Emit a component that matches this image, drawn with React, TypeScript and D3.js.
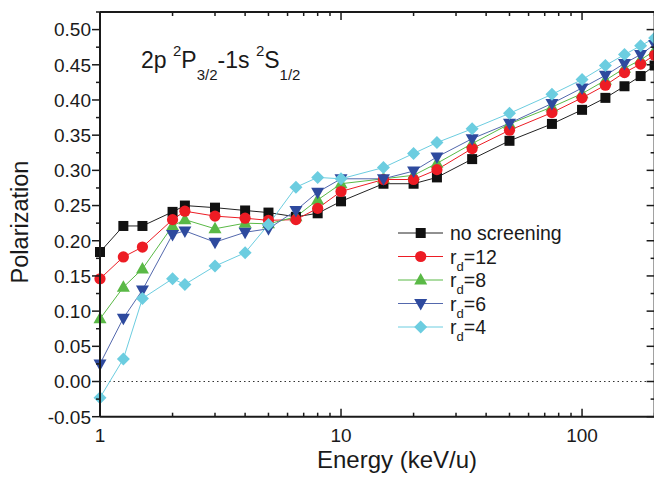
import React from "react";
import * as d3 from "d3";

const energies = [1, 1.25, 1.5, 2, 2.25, 3, 4, 5, 6.5, 8, 10, 15, 20, 25, 35, 50, 75, 100, 125, 150, 175, 200];
const noScreening = [0.184, 0.221, 0.221, 0.241, 0.25, 0.247, 0.243, 0.24, 0.234, 0.239, 0.256, 0.281, 0.281, 0.29, 0.316, 0.342, 0.366, 0.386, 0.403, 0.4195, 0.434, 0.449];
const rd12 = [0.146, 0.177, 0.191, 0.23, 0.242, 0.235, 0.232, 0.229, 0.23, 0.246, 0.27, 0.287, 0.287, 0.301, 0.331, 0.357, 0.382, 0.403, 0.421, 0.439, 0.451, 0.4635];
const rd8 = [0.089, 0.134, 0.16, 0.221, 0.23, 0.217, 0.225, 0.224, 0.234, 0.258, 0.281, 0.288, 0.293, 0.31, 0.338, 0.366, 0.39, 0.409, 0.428, 0.445, 0.457, 0.47];
const rd6 = [0.025, 0.09, 0.13, 0.209, 0.214, 0.198, 0.212, 0.217, 0.243, 0.269, 0.288, 0.288, 0.299, 0.319, 0.345, 0.367, 0.395, 0.417, 0.435, 0.452, 0.4645, 0.479];
const rd4 = [-0.023, 0.032, 0.118, 0.146, 0.138, 0.164, 0.183, 0.223, 0.276, 0.29, 0.288, 0.304, 0.324, 0.3395, 0.359, 0.381, 0.408, 0.429, 0.449, 0.4645, 0.477, 0.488];

const seriesNames = ["no screening", "12", "8", "6", "4"];
const seriesValues = [noScreening, rd12, rd8, rd6, rd4];
const seriesColors = ["#111111", "#ed1c24", "#5ab946", "#2e4a9e", "#6ccde0"];
const lineColors = ["#222222", "#ed1c24", "#5ab946", "#5368ad", "#6ccde0"];
const seriesShapes = ["square", "circle", "triUp", "triDown", "diamond"];

const xMajorTicks = [1, 10, 100];
const yMajorTicks = [-0.05, 0, 0.05, 0.1, 0.15, 0.2, 0.25, 0.3, 0.35, 0.4, 0.45, 0.5];

const FONT = "'Liberation Sans', Arial, Helvetica, sans-serif";

function Marker({ shape, x, y, color }: { shape: string; x: number; y: number; color: string }) {
  if (shape === "square") return <rect x={x - 5} y={y - 5} width={10} height={10} fill={color} />;
  if (shape === "circle") return <circle cx={x} cy={y} r={5.6} fill={color} />;
  if (shape === "triUp")
    return <path d={`M${x},${y - 7} L${x + 6.5},${y + 4.5} L${x - 6.5},${y + 4.5} Z`} fill={color} />;
  if (shape === "triDown")
    return <path d={`M${x},${y + 7} L${x + 6.5},${y - 4.5} L${x - 6.5},${y - 4.5} Z`} fill={color} />;
  return <path d={`M${x},${y - 6.5} L${x + 6.5},${y} L${x},${y + 6.5} L${x - 6.5},${y} Z`} fill={color} />;
}

export default function App() {
  const W = 654;
  const H = 481;
  const left = 100;
  const right = 654.6;
  const top = 12;
  const bottom = 416.7;
  const x = d3.scaleLog().domain([1, 200]).range([left, right]);
  const y = d3.scaleLinear().domain([-0.05, 0.525]).range([bottom, top]);

  const xMinor: number[] = [];
  for (const dec of [1, 10, 100]) {
    for (let k = 2; k <= 9; k++) {
      const v = dec * k;
      if (v <= 200) xMinor.push(v);
    }
  }
  const yMinor: number[] = [];
  for (let v = -0.025; v <= 0.526; v += 0.05) yMinor.push(+v.toFixed(3));

  const line = d3
    .line<[number, number]>()
    .x((d) => x(d[0]))
    .y((d) => y(d[1]));

  const drawOrder = [0, 2, 1, 3, 4];

  return (
    <svg width={W} height={H} style={{ position: "absolute", left: 0, top: 0 }} fontFamily={FONT}>
      <rect x={0} y={0} width={W} height={H} fill="#fff" />
      {/* zero dotted line */}
      <line x1={left} x2={right} y1={y(0)} y2={y(0)} stroke="#333" strokeWidth={1} strokeDasharray="1.5,3" />

      {/* series lines */}
      {seriesValues.map((vals, i) => (
        <path
          key={"l" + i}
          d={line(energies.map((e, j) => [e, vals[j]] as [number, number])) || ""}
          fill="none"
          stroke={lineColors[i]}
          strokeWidth={1}
        />
      ))}
      {/* markers */}
      {drawOrder.map((i) => (
        <g key={"m" + i}>
          {energies.map((e, j) => (
            <Marker key={j} shape={seriesShapes[i]} x={x(e)} y={y(seriesValues[i][j])} color={seriesColors[i]} />
          ))}
        </g>
      ))}

      {/* frame */}
      <g stroke="#1a1a1a" strokeWidth={2} fill="none">
        <line x1={left} x2={left} y1={top} y2={bottom} />
        <line x1={left} x2={right} y1={bottom} y2={bottom} />
        <line x1={left} x2={right} y1={top} y2={top} />
        <line x1={right} x2={right} y1={top} y2={bottom} />
      </g>

      {/* ticks */}
      <g stroke="#1a1a1a" strokeWidth={1.5}>
        {xMajorTicks.map((t) => (
          <g key={"xt" + t}>
            <line x1={x(t)} x2={x(t)} y1={bottom} y2={bottom - 8} />
            <line x1={x(t)} x2={x(t)} y1={top} y2={top + 8} />
          </g>
        ))}
        {xMinor.map((t) => (
          <g key={"xm" + t}>
            <line x1={x(t)} x2={x(t)} y1={bottom} y2={bottom - 4} />
            <line x1={x(t)} x2={x(t)} y1={top} y2={top + 4} />
          </g>
        ))}
        {yMajorTicks.map((t) => (
          <g key={"yt" + t}>
            <line x1={left} x2={left - 8} y1={y(t)} y2={y(t)} />
            <line x1={right} x2={right - 8} y1={y(t)} y2={y(t)} />
          </g>
        ))}
        {yMinor.map((t) => (
          <g key={"ym" + t}>
            <line x1={left} x2={left - 4} y1={y(t)} y2={y(t)} />
            <line x1={right} x2={right - 4} y1={y(t)} y2={y(t)} />
          </g>
        ))}
      </g>

      {/* tick labels */}
      <g fontSize={19} fill="#1a1a1a">
        {yMajorTicks.map((t) => (
          <text key={"yl" + t} x={91} y={y(t)} dy="0.36em" textAnchor="end">
            {d3.format(".2f")(t).replace("−", "-")}
          </text>
        ))}
        {xMajorTicks.map((t) => (
          <text key={"xl" + t} x={x(t)} y={442} textAnchor="middle">
            {t}
          </text>
        ))}
      </g>

      {/* axis titles */}
      <text x={397} y={468} textAnchor="middle" fontSize={24} fill="#1a1a1a">
        Energy (keV/u)
      </text>
      <text transform="translate(28,222) rotate(-90)" textAnchor="middle" fontSize={23.5} fill="#1a1a1a">
        Polarization
      </text>

      {/* annotation */}
      <text x={141} y={68} fontSize={23} fill="#1a1a1a">
        2p <tspan dy={-12} fontSize={15}>2</tspan>
        <tspan dy={12}>P</tspan>
        <tspan dy={12} fontSize={15}>3/2</tspan>
        <tspan dy={-12}>-1s </tspan>
        <tspan dy={-12} fontSize={15}>2</tspan>
        <tspan dy={12}>S</tspan>
        <tspan dy={12} fontSize={15}>1/2</tspan>
      </text>

      {/* legend */}
      {seriesNames.map((name, i) => {
        const ly = 233 + i * 23.5;
        return (
          <g key={"lg" + i}>
            <line x1={398} x2={443} y1={ly} y2={ly} stroke={lineColors[i]} strokeWidth={1} />
            <Marker shape={seriesShapes[i]} x={420.7} y={ly} color={seriesColors[i]} />
            {i === 0 ? (
              <text x={450} y={ly} dy="0.36em" fontSize={19.5} fill="#1a1a1a">
                {name}
              </text>
            ) : (
              <text x={450} y={ly} dy="0.36em" fontSize={19.5} fill="#1a1a1a">
                r<tspan dy={7} fontSize={13}>d</tspan>
                <tspan dy={-7}>={name}</tspan>
              </text>
            )}
          </g>
        );
      })}
    </svg>
  );
}
